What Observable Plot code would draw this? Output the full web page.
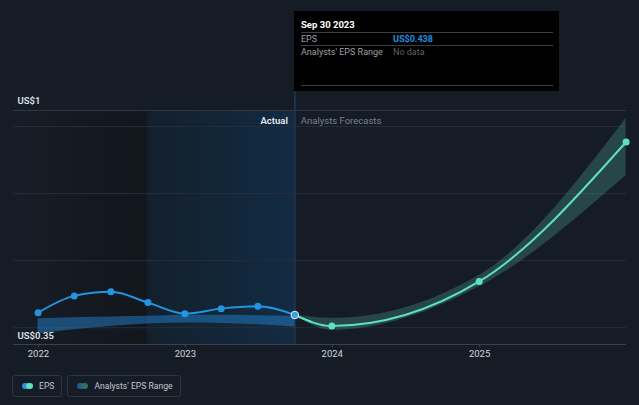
<!DOCTYPE html>
<html>
<head>
<meta charset="utf-8">
<script src="https://cdn.jsdelivr.net/npm/d3@7"></script>
<script src="https://cdn.jsdelivr.net/npm/@observablehq/plot@0.6"></script>
<style>
  html, body { margin: 0; padding: 0; background: #161c26; }
  body { width: 639px; height: 405px; position: relative; overflow: hidden; font-family: Roboto, "Noto Sans", sans-serif; }
  #chart { position: absolute; left: 0; top: 0; }
  .tip { position: absolute; left: 294px; top: 11px; width: 265px; height: 80px; background: #000; color: #fff; font-size: 9px; }
  .tip .row { position: absolute; left: 7px; right: 6px; }
  .tip .sep { position: absolute; left: 7px; right: 6px; height: 1px; background: #3a3f46; }
  .legend { position: absolute; top: 375px; left: 12px; display: flex; gap: 5px; }
  .lg { height: 22px; border: 1px solid #2c333d; border-radius: 3px; display: flex; align-items: center; padding: 0 7px 0 9px; color: #c3c7cd; font-size: 8.6px; box-sizing: border-box; }
  .sw { position: relative; width: 11px; height: 6px; margin-right: 6px; }
  .sw span { position: absolute; top: 0; width: 7px; height: 6px; border-radius: 3px; }
</style>
</head>
<body>
<div id="chart"></div>
<div class="tip">
  <div class="row" style="top:8px;font-weight:700;font-size:9.5px;">Sep 30 2023</div>
  <div class="sep" style="top:21px;"></div>
  <div class="row" style="top:23px;color:#9ba1a8;">EPS</div>
  <div class="row" style="top:23px;left:99px;color:#1f8fe0;font-weight:700;">US$0.438</div>
  <div class="sep" style="top:34px;"></div>
  <div class="row" style="top:36px;color:#9ba1a8;">Analysts' EPS Range</div>
  <div class="row" style="top:36px;left:99px;color:#5b6067;">No data</div>
  <div class="sep" style="top:74px;"></div>
</div>
<div class="legend">
  <div class="lg"><div class="sw"><span style="left:0;background:#2394df"></span><span style="left:4px;background:#5ee0c5"></span></div>EPS</div>
  <div class="lg"><div class="sw"><span style="left:0;background:#1d5f92"></span><span style="left:4px;background:#2f6f68"></span></div>Analysts' EPS Range</div>
</div>
<script>
// ---- data ----
const epsDates = ["2021-12-31","2022-03-31","2022-06-30","2022-09-30","2022-12-31","2023-03-31","2023-06-30","2023-09-30"];
const epsValues = [0.445, 0.495, 0.507, 0.475, 0.442, 0.457, 0.464, 0.438];
const rangeLow  = [0.382, 0.394, 0.404, 0.411, 0.414, 0.413, 0.409, 0.402];
const rangeHigh = [0.427, 0.430, 0.432, 0.434, 0.437, 0.437, 0.436, 0.434];

const forecastDates  = ["2023-09-30","2023-12-31","2024-12-31","2025-12-31"];
const forecastValues = [0.438, 0.405, 0.538, 0.954];
const forecastLow    = [0.438, 0.392, 0.522, 0.854];
const forecastHigh   = [0.438, 0.428, 0.556, 1.024];

const yearTicks = ["2022-01-01","2023-01-01","2024-01-01","2025-01-01"];
const gridTicks = [0.4, 0.6, 0.8, 1.0];
const yMin = 0.35, yMax = 1.048;
const xStart = "2021-10-31", xEnd = "2026-01-01";
const lastActual = "2023-09-30", ltmStart = "2022-09-30";
const tipBottom = 1.105;
const yLabelTop = "US$1", yLabelBottom = "US$0.35";

// ---- build tables ----
const D = s => new Date(s);
const eps = epsDates.map((d, i) => ({date: D(d), value: epsValues[i], low: rangeLow[i], high: rangeHigh[i]}));
const fc = forecastDates.map((d, i) => ({date: D(d), value: forecastValues[i], low: forecastLow[i], high: forecastHigh[i]}));

const blue = "#2394df", teal = "#5ee0c5";

const chart = Plot.plot({
  width: 639,
  height: 362,
  marginLeft: 13,
  marginRight: 13,
  marginTop: 110,
  marginBottom: 18,
  style: {background: "transparent", fontFamily: "Roboto, sans-serif", fontSize: "9px", overflow: "visible"},
  x: {type: "utc", domain: [D(xStart), D(xEnd)]},
  y: {domain: [yMin, yMax], axis: null},
  marks: [
    Plot.rect([{a: D(xStart), b: D(ltmStart)}], {x1: "a", x2: "b", fill: "url(#gLeft)"}),
    Plot.rect([{a: D(ltmStart), b: D(lastActual)}], {x1: "a", x2: "b", fill: "url(#gHi)"}),
    Plot.ruleY(gridTicks, {stroke: "#272e38", strokeWidth: 1}),
    Plot.ruleY([yMax], {stroke: "#2f3640", strokeWidth: 1}),
    Plot.ruleX([D(lastActual)], {y1: yMin, y2: tipBottom, stroke: "#1e3a56", strokeWidth: 1.5}),
    Plot.areaY(eps, {x: "date", y1: "low", y2: "high", fill: "#2179bd", fillOpacity: 0.55, curve: "monotone-x"}),
    Plot.areaY(fc, {x: "date", y1: "low", y2: "high", fill: teal, fillOpacity: 0.22, curve: "monotone-x"}),
    Plot.ruleY([yMin], {stroke: "#3a414c", strokeWidth: 1}),
    Plot.axisX({ticks: yearTicks.map(D), tickFormat: d3.utcFormat("%Y"), tickSize: 3, tickPadding: 3, stroke: "#3a414c", color: "#d2d5da", fontSize: 9.5, label: null}),
    Plot.line(eps, {x: "date", y: "value", stroke: blue, strokeWidth: 2, curve: "monotone-x"}),
    Plot.line(fc, {x: "date", y: "value", stroke: teal, strokeWidth: 2, curve: "monotone-x"}),
    Plot.dot(eps.slice(0, -1), {x: "date", y: "value", r: 3.5, fill: blue}),
    Plot.dot(fc.slice(1), {x: "date", y: "value", r: 3.5, fill: teal}),
    Plot.dot(eps.slice(-1), {x: "date", y: "value", r: 3.8, fill: "#3aa0e6", stroke: "#e8eef5", strokeWidth: 1}),
    Plot.text([yLabelTop], {frameAnchor: "top-left", lineAnchor: "middle", dx: 4, dy: -10, text: d => d, fill: "#dfe2e6", fontWeight: 600, fontSize: 9.5, textAnchor: "start"}),
    Plot.text([yLabelBottom], {frameAnchor: "bottom-left", lineAnchor: "middle", dx: 4, dy: -9, text: d => d, fill: "#dfe2e6", fontWeight: 600, fontSize: 9.5, textAnchor: "start"}),
    Plot.text(["Actual"], {x: D(lastActual), frameAnchor: "top", lineAnchor: "middle", dy: 10, dx: -7, text: d => d, textAnchor: "end", fill: "#e6e8eb", fontWeight: 600, fontSize: 9.5}),
    Plot.text(["Analysts Forecasts"], {x: D(lastActual), frameAnchor: "top", lineAnchor: "middle", dy: 10, dx: 6, text: d => d, textAnchor: "start", fill: "#7b818a", fontSize: 9.5})
  ]
});

const defs = document.createElementNS("http://www.w3.org/2000/svg", "defs");
defs.innerHTML = `
  <linearGradient id="gLeft" x1="0" x2="1" y1="0" y2="0">
    <stop offset="0" stop-color="#171d26"/>
    <stop offset="1" stop-color="#12161d"/>
  </linearGradient>
  <linearGradient id="gHi" x1="0" x2="1" y1="0" y2="0">
    <stop offset="0" stop-color="#13202c"/>
    <stop offset="1" stop-color="#122b43"/>
  </linearGradient>`;
chart.insertBefore(defs, chart.firstChild);
document.getElementById("chart").appendChild(chart);
</script>
</body>
</html>
